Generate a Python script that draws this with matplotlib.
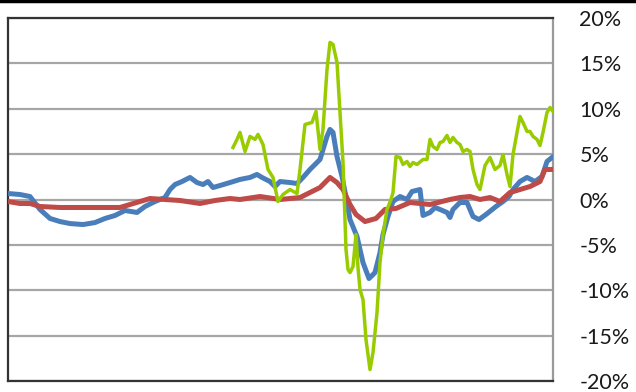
import matplotlib
matplotlib.use("Agg")
import matplotlib.pyplot as plt
from matplotlib.lines import Line2D
from matplotlib.ticker import FuncFormatter

# weekly index and % change for the three series
blue_week = [0, 12, 22, 32, 42, 52, 62, 75, 87, 97, 107, 117, 129, 137, 147, 157,
             162, 167, 174, 182, 189, 195, 200, 205, 212, 222, 232, 242, 249, 254,
             262, 267, 272, 282, 289, 295, 302, 312, 319, 322, 325, 329, 334, 339,
             342, 349, 355, 361, 367, 372, 375, 380, 385, 392, 399, 404, 408, 412,
             415, 422, 427, 432, 439, 442, 445, 452, 459, 465, 471, 478, 488, 495,
             501, 505, 512, 519, 527, 534, 539, 544]
blue_val = [0.66, 0.55, 0.33, -1.10, -2.09, -2.43, -2.65, -2.76, -2.54, -2.09,
            -1.76, -1.21, -1.43, -0.77, -0.22, 0.22, 1.10, 1.65, 1.98, 2.43, 1.87,
            1.65, 1.98, 1.32, 1.54, 1.87, 2.21, 2.43, 2.76, 2.43, 1.98, 1.43, 1.98,
            1.87, 1.76, 2.43, 3.31, 4.41, 6.95, 7.72, 7.39, 4.74, 2.54, -0.33,
            -2.21, -4.08, -6.95, -8.71, -8.05, -5.84, -3.86, -1.87, -0.22, 0.33,
            0.00, 0.88, 0.99, 1.10, -1.76, -1.43, -0.88, -1.10, -1.43, -1.98,
            -1.10, -0.33, -0.33, -1.87, -2.21, -1.65, -0.77, -0.22, 0.33, 1.10,
            1.98, 2.43, 1.98, 2.54, 4.19, 4.63]

red_week = [0, 12, 22, 32, 52, 82, 112, 122, 142, 157, 172, 192, 207, 222, 232,
            252, 272, 292, 302, 312, 322, 329, 335, 342, 348, 357, 368, 377, 388,
            402, 422, 442, 452, 462, 472, 482, 492, 502, 512, 522, 532, 537, 545]
red_val = [-0.22, -0.44, -0.44, -0.77, -0.88, -0.88, -0.88, -0.55, 0.11, 0.00,
           -0.11, -0.44, -0.11, 0.11, 0.00, 0.33, 0.00, 0.22, 0.77, 1.32, 2.43,
           1.87, 1.10, -0.55, -1.65, -2.43, -2.09, -1.10, -0.99, -0.33, -0.55,
           0.00, 0.22, 0.33, 0.00, 0.22, -0.22, 0.77, 1.10, 1.43, 1.98, 3.31, 3.31]

green_week = [225, 229, 232, 237, 242, 247, 250, 255, 260, 265, 270, 275, 282,
              289, 292, 297, 304, 308, 312, 315, 319, 322, 325, 329, 332, 335,
              338, 340, 342, 345, 348, 350, 352, 355, 358, 362, 365, 369, 372,
              375, 379, 383, 385, 388, 392, 395, 399, 402, 405, 409, 415, 419,
              422, 425, 429, 432, 435, 439, 442, 445, 449, 452, 455, 459, 462,
              465, 469, 472, 477, 482, 487, 492, 495, 499, 502, 505, 509, 512,
              515, 519, 522, 525, 529, 532, 535, 539, 542, 545]
green_val = [5.73, 6.62, 7.39, 5.29, 6.95, 6.62, 7.17, 6.06, 3.31, 2.43, -0.22,
             0.55, 1.10, 0.66, 3.31, 8.27, 8.49, 9.70, 5.51, 7.72, 14.33, 17.31,
             17.09, 15.10, 9.59, 4.08, -5.51, -7.72, -8.05, -7.39, -3.86, -7.50,
             -9.92, -11.03, -15.44, -18.74, -16.87, -12.46, -6.95, -3.86, -1.10,
             0.00, 0.77, 4.74, 4.63, 3.86, 4.19, 3.64, 4.08, 3.86, 4.41, 4.41,
             6.62, 5.84, 5.51, 6.28, 6.39, 7.06, 6.28, 6.84, 6.28, 6.06, 5.29,
             5.51, 5.29, 3.31, 1.65, 1.10, 3.75, 4.63, 3.31, 3.75, 4.96, 2.76,
             1.43, 4.96, 7.39, 9.15, 8.49, 7.50, 7.50, 6.95, 6.62, 5.95, 7.39,
             9.59, 10.14, 9.70]

y_ticks = [20, 15, 10, 5, 0, -5, -10, -15, -20]

W, H = 636, 392
fig = plt.figure(figsize=(W / 100, H / 100), dpi=100)
ax = fig.add_axes([8 / W, (H - 381) / H, (553 - 8) / W, (381 - 18) / H])

ax.plot(blue_week, blue_val, color="#4a7ebb", lw=3.6, solid_joinstyle="round", zorder=3)
ax.plot(red_week, red_val, color="#be4b48", lw=3.6, solid_joinstyle="round", zorder=4)
ax.plot(green_week, green_val, color="#99cc00", lw=2.5, solid_joinstyle="round", zorder=5)

ax.set_xlim(0, 545)
ax.set_ylim(-20, 20)
ax.set_xticks([])
ax.set_yticks(y_ticks)
ax.yaxis.tick_right()
ax.yaxis.set_major_formatter(FuncFormatter(lambda v, _: f"{v:.0f}%"))
ax.tick_params(axis="y", length=0, pad=19, labelsize=15.5, labelcolor="#1a1a1a")
for lbl in ax.get_yticklabels():
    lbl.set_fontfamily("Lato")
    lbl.set_horizontalalignment("left")
ax.yaxis.grid(True, color="#a6a6a6", lw=1.6)
ax.set_axisbelow(True)

for side in ("left", "bottom", "top"):
    ax.spines[side].set_color("#333333")
    ax.spines[side].set_linewidth(1.6)
ax.spines["right"].set_color("#9a9a9a")
ax.spines["right"].set_linewidth(1.6)

# dark rule along the top edge
fig.add_artist(Line2D([0, 1], [1 - 1 / H, 1 - 1 / H], color="black", lw=2.5,
                      transform=fig.transFigure))

fig.savefig("out.png", dpi=100)
